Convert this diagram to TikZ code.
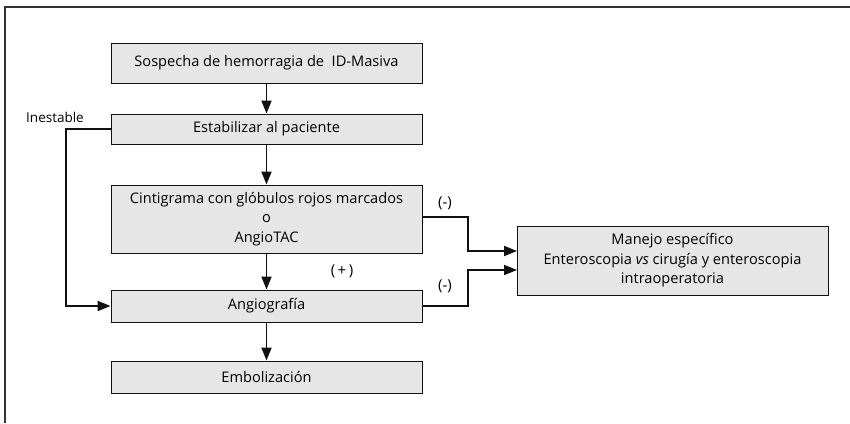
\documentclass[tikz,border=0pt]{standalone}
\usepackage{fontspec}
\setmainfont{Open Sans}
\usetikzlibrary{arrows.meta,calc}
\definecolor{boxfill}{HTML}{E6E6E7}
\definecolor{lineclr}{HTML}{111111}
\tikzset{
  box/.style={draw=lineclr, line width=0.9pt, fill=boxfill, minimum width=311pt, inner sep=0pt, align=center, font=\fontsize{14.6}{19.5}\selectfont},
  conn/.style={draw=lineclr, line width=1.8pt, -{Triangle[length=13pt,width=10pt]}},
  lbl/.style={font=\fontsize{13.5}{15}\selectfont, inner sep=0pt},
  sign/.style={font=\fontsize{15}{17}\selectfont, inner sep=0pt}
}
\begin{document}
\begin{tikzpicture}[x=1pt,y=-1pt]
\useasboundingbox (0,0) rectangle (850,423);
\draw[line width=1.6pt, draw=black!80] (5,423) -- (5,7) -- (850,7);
\node[box, minimum height=40pt] (s1) at (266.5,63) {Sospecha de hemorragia de\ \ ID-Masiva};
\node[box, minimum height=30pt] (s2) at (266.5,129) {Estabilizar al paciente};
\node[box, minimum height=68pt] (s3) at (266.5,219) {Cintigrama con glóbulos rojos marcados\\o\\AngioTAC};
\node[box, minimum height=32pt] (s4) at (266.5,306) {Angiografía};
\node[box, minimum height=32pt] (s5) at (266.5,377) {Embolización};
\node[box, minimum height=69pt] (m) at (672.5,260.5) {Manejo específico\\Enteroscopia \textit{vs} cirugía y enteroscopia\\intraoperatoria};
\coordinate (mA) at (517,251);
\coordinate (mB) at (517,270);
\draw[conn] (s1) -- (s2);
\draw[conn] (s2) -- (s3);
\draw[conn] (s3) -- (s4);
\draw[conn] (s4) -- (s5);
\draw[conn] (s2.west) -- (66,129) |- (s4.west);
\draw[conn] ($(s3.east)+(0,-2)$) -- (468,217) |- (mA);
\draw[conn] (s4.east) -- (468,306) |- (mB);
\node[lbl] (ine) at (55,117) {Inestable};
\node[sign] (neg1) at (445,203) {(-)};
\node[sign] (neg2) at (445,286) {(-)};
\node[sign] (pos) at (342,271) {(\,+\,)};
\end{tikzpicture}
\end{document}
